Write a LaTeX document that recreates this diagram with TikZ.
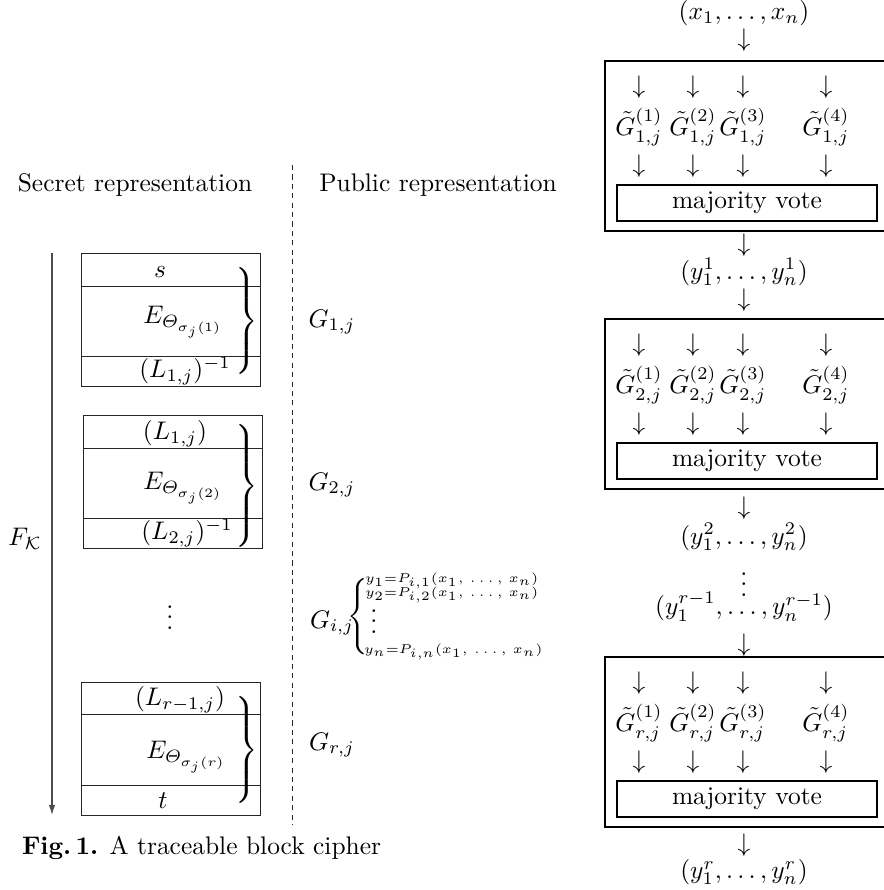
\documentclass[tikz,border=0pt]{standalone}
\usepackage{amsmath}
\usetikzlibrary{arrows.meta,positioning}
\tikzset{%
   txt/.style={inner sep=0pt, outer sep=0pt},
   slab/.style={draw=black!85, line width=0.35pt},
   round/.style={draw=black, line width=1.1pt},
   vote/.style={draw=black, line width=1.1pt, minimum width=102.2pt, minimum height=14.1pt, inner sep=0pt},
   sep/.style={draw=black!85, line width=0.35pt, dash pattern=on 2pt off 1.7pt},
   flow/.style={draw=black!70, line width=0.5pt, -{Latex[length=4pt,width=2.6pt]}},
   poly/.style={anchor=west, font=\tiny},
}
\newcommand\tallbrace[1]{$\left.\vcenter{\hrule height #1 width 0pt}\right\}$}
\newcommand\tallcase[1]{$\left\{\vcenter{\hrule height #1 width 0pt}\right.$}

\begin{document}
\begin{tikzpicture}[x=0.393pt, y=-0.393pt, every node/.style={txt}]
   \useasboundingbox (0,0) rectangle (883,890);
   % left half
   \node (sec) at (135,185) {Secret representation};
   \node (pub) at (438,185) {Public representation};
   \coordinate (dtop) at (292,165);
   \coordinate (dbot) at (292,825);
   \path[sep] (dtop) -- (dbot);
   \coordinate (ftop) at (52,253);
   \coordinate (fbot) at (52,815);
   \path[flow] (ftop) -- (fbot);
   \node (fk) at (25,539) {$F_{\mathcal{K}}$};
   \draw[slab] (81,253) rectangle (260,386) (81,286) -- (260,286) (81,356) -- (260,356);
   \draw[slab] (83,415) rectangle (262,548) (83,448) -- (262,448) (83,518) -- (262,518);
   \draw[slab] (81,682) rectangle (260,815) (81,714) -- (260,714) (81,785) -- (260,785);
   \node (s) at (160,272) {$s$};
   \node (e1) at (183,322) {$E_{\varTheta_{\sigma_j(1)}}$};
   \node (l1i) at (185,371) {$(L_{1,j})^{-1}$};
   \node (l1) at (175,434) {$(L_{1,j})$};
   \node (e2) at (183,488) {$E_{\varTheta_{\sigma_j(2)}}$};
   \node (l2i) at (187,533) {$(L_{2,j})^{-1}$};
   \node (ldots) at (170,610) {$\vdots$};
   \node (lr) at (180,700) {$(L_{r-1,j})$};
   \node (er) at (186,757) {$E_{\varTheta_{\sigma_j(r)}}$};
   \node (t) at (163,801) {$t$};
   \node (b1) at (245,321) {\tallbrace{44pt}};
   \node (b2) at (245,486) {\tallbrace{47pt}};
   \node (br) at (245,750) {\tallbrace{45pt}};
   \node (g1) at (332,322) {$G_{1,j}$};
   \node (g2) at (332,485) {$G_{2,j}$};
   \node (gi) at (332,623) {$G_{i,j}$};
   \node (cb) at (359,617) {\tallcase{29pt}};
   \node[poly] (py1) at (365,581) {$y_1{=}P_{i,1}(x_1,\,\ldots,\,x_n)$};
   \node[poly] (py2) at (365,595) {$y_2{=}P_{i,2}(x_1,\,\ldots,\,x_n)$};
   \node (pdots) at (374,614) {$\scriptstyle\vdots$};
   \node[poly] (pyn) at (364,652) {$y_n{=}P_{i,n}(x_1,\,\ldots,\,x_n)$};
   \node (gr) at (332,745) {$G_{r,j}$};
   \node[anchor=west] (cap) at (22,848) {\textbf{Fig.\,1.} A traceable block cipher};
   % right half
   \node (xin) at (744,13) {$(x_1,\ldots,x_n)$};
   \node (a0) at (744,40) {$\downarrow$};
   \foreach \T/\k in {61/1, 319/2, 657/r} {
      \draw[round] (930,\T) -- (605,\T) -- (605,{\T+170}) -- (930,{\T+170});
      \foreach \c/\x in {1/639, 2/693, 3/743, 4/826} {
         \node (up\k\c) at (\x,{\T+26}) {$\downarrow$};
         \node (gt\k\c) at (\x,{\T+66}) {$\tilde{G}^{(\c)}_{\k,j}$};
         \node (dn\k\c) at (\x,{\T+105}) {$\downarrow$};
      }
      \node[vote] (mv\k) at (747,{\T+142}) {majority vote};
   }
   \node (a1) at (744,245) {$\downarrow$};
   \node (y1) at (744,272) {$(y_1^1,\ldots,y_n^1)$};
   \node (a2) at (744,300) {$\downarrow$};
   \node (a3) at (744,508) {$\downarrow$};
   \node (y2) at (744,537) {$(y_1^2,\ldots,y_n^2)$};
   \node (ydots) at (744,577) {$\vdots$};
   \node (yr1) at (744,607) {$(y_1^{r-1},\ldots,y_n^{r-1})$};
   \node (a4) at (744,645) {$\downarrow$};
   \node (a5) at (744,845) {$\downarrow$};
   \node (yr) at (744,872) {$(y_1^r,\ldots,y_n^r)$};
\end{tikzpicture}
\end{document}
